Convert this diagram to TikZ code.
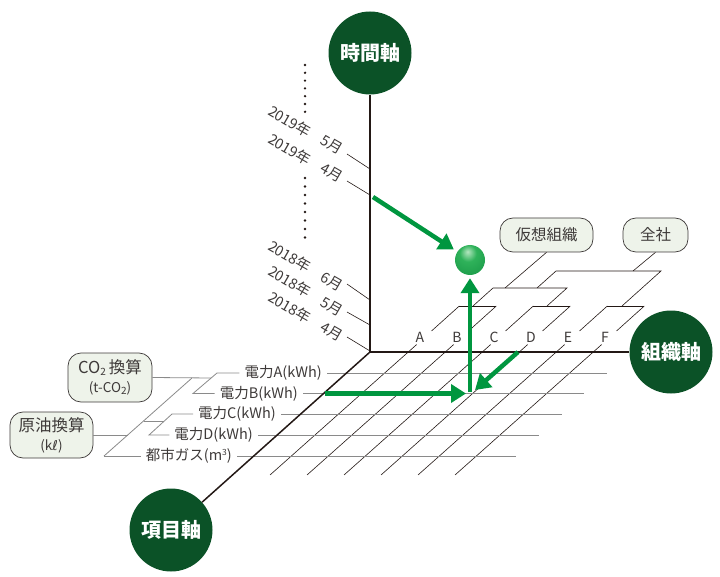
\documentclass[tikz,border=0pt]{standalone}
\usepackage{fontspec}
\setmainfont{Noto Sans CJK JP}
\newfontfamily\dejavu{DejaVu Sans}
\usetikzlibrary{arrows.meta,calc}
\definecolor{dkgreen}{HTML}{0B5227}
\definecolor{arrgreen}{HTML}{00963F}
\definecolor{ballhi}{HTML}{B4E6C0}
\definecolor{ballgreen}{HTML}{2FB25A}
\definecolor{ballmid}{HTML}{1A9A48}
\definecolor{balldark}{HTML}{0E7A38}
\definecolor{bubblefill}{HTML}{EEF3EA}
\definecolor{textcol}{HTML}{3E3A39}
\definecolor{axiscol}{HTML}{231815}
\definecolor{rowgray}{HTML}{8A8A8A}
\pgfdeclareradialshading{greenball}{\pgfpoint{-4bp}{14bp}}{color(0bp)=(ballhi); color(14bp)=(ballgreen); color(38bp)=(ballmid); color(52bp)=(balldark); color(75bp)=(balldark)}
\newcommand{\mysubtwo}{\raisebox{-0.25ex}{\fontsize{10}{10}\selectfont 2}}
\newcommand{\mysupthree}{\raisebox{0.7ex}{\fontsize{8.5}{8.5}\selectfont 3}}
\begin{document}
\begin{tikzpicture}[x=1pt,y=-1pt,
  axisline/.style={draw=axiscol, line width=1.5pt},
  gridcol/.style={draw=axiscol, line width=0.6pt},
  rowcol/.style={draw=rowgray, line width=0.8pt},
  garrow/.style={draw=arrgreen, line width=4.5pt, -{Triangle[length=15pt,width=18pt]}},
  axiscircle/.style={circle, fill=dkgreen, minimum size=83pt, inner sep=0pt, text=white, font=\fontsize{20}{20}\selectfont\bfseries},
  bubble/.style={draw=textcol, fill=bubblefill, rounded corners=13pt, line width=0.7pt, text=textcol, inner sep=0pt},
  lbl/.style={text=textcol, font=\fontsize{14}{14}\selectfont, inner sep=1pt},
  datelbl/.style={text=textcol, font=\fontsize{14.5}{15}\selectfont, rotate=-30, inner sep=0pt},
  rowlbl/.style={text=textcol, font=\fontsize{14.5}{15}\selectfont, inner xsep=5pt, inner ysep=1pt, anchor=east}
]
\useasboundingbox (0,0) rectangle (720,577);

% ---------- grid: columns ----------
\foreach \k/\L in {0/A,1/B,2/C,3/D,4/E,5/F}{
  \coordinate (cb\k) at ({270+37*\k},475);
  \coordinate (cm\k) at ({416.7+37*\k},344.5);
  \coordinate (cu\k) at ({431.5+37*\k},331);
  \coordinate (ct\k) at ({459.3+37*\k},306);
  \draw[gridcol] (cb\k) -- (cm\k);
  \draw[gridcol] (cu\k) -- (ct\k);
  \node[lbl] (cl\L) at ({420+37*\k},337) {\L};
}
% group brackets (top)
\draw[gridcol] (ct0) -- (ct1);
\draw[gridcol] (ct2) -- (ct3);
\draw[gridcol] (ct4) -- (ct5);
\coordinate (l2a) at (493,288); \coordinate (l2b) at (567,288);
\coordinate (l2aa) at (473,306); \coordinate (l2bb) at (547,306);
\draw[gridcol] (l2aa) -- (l2a) -- (l2b) -- (l2bb);
\coordinate (l3a) at (556,271); \coordinate (l3b) at (661,271);
\coordinate (l3aa) at (537,288); \coordinate (l3bb) at (622,306);
\draw[gridcol] (l3aa) -- (l3a) -- (l3b) -- (l3bb);
\node[bubble, minimum width=93pt, minimum height=34pt, font=\fontsize{15.5}{16}\selectfont] (vorg) at (546.5,235) {仮想組織};
\node[bubble, minimum width=65pt, minimum height=34pt, font=\fontsize{15.5}{16}\selectfont] (whole) at (655.5,235) {全社};
\coordinate (vj) at (505,288);
\coordinate (wj) at (633,271);
\draw[gridcol] (vj) -- (vorg.south);
\draw[gridcol] (wj) -- (whole.south);

% ---------- rows ----------
\node[rowlbl] (rA) at (327,373) {電力A(kWh)};
\node[rowlbl] (rB) at (303,393.5) {電力B(kWh)};
\node[rowlbl] (rC) at (281,414) {電力C(kWh)};
\node[rowlbl] (rD) at (258,435) {電力D(kWh)};
\node[rowlbl] (rG) at (237,456) {都市ガス(m\mysupthree)};
\coordinate (eA) at (607,373);
\coordinate (eB) at (584,393.5);
\coordinate (eC) at (562,414);
\coordinate (eD) at (539,435);
\coordinate (eG) at (516,456);
\foreach \r in {A,B,C,D,G}{ \draw[rowcol] (r\r.east) -- (e\r); }

% left brackets
\coordinate (pa) at (217,373);
\coordinate (pb) at (193,393.5);
\coordinate (pc) at (172,414);
\coordinate (pd) at (149,435);
\coordinate (pg) at (104,456);
\draw[rowcol] (rA.west) -- (pa) -- (pb) -- (rB.west);
\draw[rowcol] (rC.west) -- (pc) -- (pd) -- (rD.west);
\draw[rowcol] (rG.west) -- (pg);
\coordinate (co2j) at (211,378);
\coordinate (ldtop) at (192,378);
\coordinate (ldc) at (143.5,421);
\coordinate (cdj) at (164.3,421);
\coordinate (ldo) at (127.7,435);
\draw[rowcol] (pg) -- (ldtop);
\draw[rowcol] (ldc) -- (cdj);
\node[bubble, minimum width=84pt, minimum height=49pt, align=center, font=\fontsize{16.5}{22}\selectfont] (co2) at (110,377.5)
  {CO\mysubtwo\,換算\\[-3pt]{\fontsize{13.5}{14}\selectfont (t-CO\mysubtwo)}};
\node[bubble, minimum width=83pt, minimum height=46pt, align=center, font=\fontsize{16.5}{22}\selectfont] (oil) at (51.5,435)
  {原油換算\\[-3pt]{\fontsize{13.5}{14}\selectfont (k{\dejavu\itshape ℓ})}};
\draw[rowcol] (co2.east) -- (co2j);
\draw[rowcol] (oil.east) -- (ldo);

% ---------- axes ----------
\node[axiscircle] (time) at (370,53) {時間軸};
\node[axiscircle] (org) at (671,352) {組織軸};
\node[axiscircle] (item) at (171,530) {項目軸};
\coordinate (O) at (370,352);
\draw[axisline] (O) -- (time);
\draw[axisline] (O) -- (org);
\draw[axisline] (O) -- (item);

% time ticks and labels
\foreach \i/\ys/\ye in {1/154/169, 2/181/195, 3/284/300, 4/312/325, 5/337/351}{
  \coordinate (ts\i) at (347,\ys);
  \coordinate (te\i) at (370,\ye);
  \draw[gridcol] (ts\i) -- (te\i);
}
\node[datelbl] (y1) at (290,121) {2019年};
\node[datelbl] (m1) at (332,145) {5月};
\node[datelbl] (y2) at (290,149) {2019年};
\node[datelbl] (m2) at (332,173) {4月};
\node[datelbl] (y3) at (290,256) {2018年};
\node[datelbl] (m3) at (332,282) {6月};
\node[datelbl] (y4) at (290,281) {2018年};
\node[datelbl] (m4) at (332,307) {5月};
\node[datelbl] (y5) at (290,307) {2018年};
\node[datelbl] (m5) at (332,332) {4月};
\foreach \i in {0,...,6}{ \fill[axiscol] (305,{65+7.8*\i}) circle (1.3); }
\foreach \i in {0,...,7}{ \fill[axiscol] (305,{178+8.5*\i}) circle (1.3); }

% ---------- green arrows and ball ----------
\node[circle, minimum size=30pt, inner sep=0pt, shading=greenball] (ball) at (470,260) {};
\coordinate (a1s) at (373,197);
\coordinate (a2s) at (470,392);
\coordinate (a3s) at (325,393.5);
\coordinate (a3e) at (466,393.5);
\coordinate (a4s) at (518,352);
\coordinate (a4e) at (475,390);
\draw[garrow, shorten >=4pt] (a1s) -- (ball);
\draw[garrow, shorten >=3pt] (a2s) -- (ball);
\draw[garrow] (a3s) -- (a3e);
\draw[garrow] (a4s) -- (a4e);
\end{tikzpicture}
\end{document}
